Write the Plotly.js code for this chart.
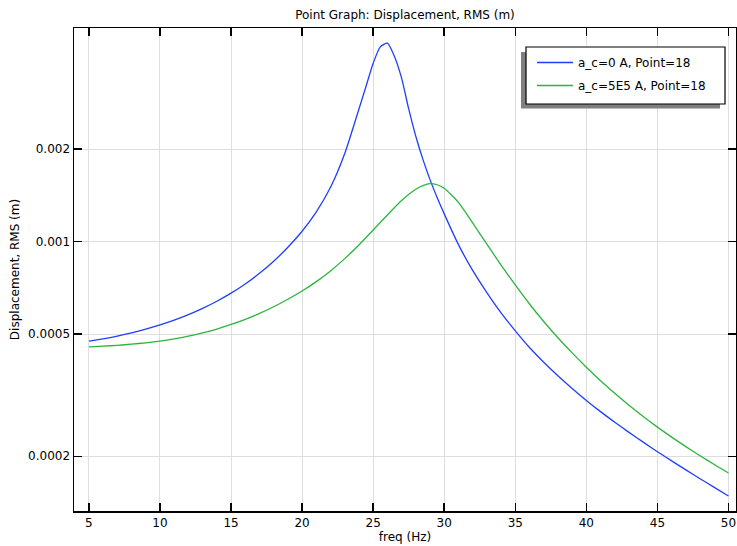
<!DOCTYPE html>
<html>
<head>
<meta charset="utf-8">
<script src="https://cdn.plot.ly/plotly-3.0.1.min.js"></script>
<style>html,body{margin:0;padding:0;background:#fff;}#chart{width:737px;height:546px;}</style>
</head>
<body>
<div id="chart"></div>
<script>
// Data
const freqBlue = [5,6,7,8,9,10,11,12,13,14,15,16,17,18,19,20,21,22,23,24,24.5,25,25.5,26,26.5,27,27.5,28,28.5,29,29.5,30,31,32,33,34,35,36,37,38,39,40,41,42,43,44,45,46,47,48,49,50];
const dispBlue = [0.000474,0.0004823,0.0004924,0.0005044,0.0005186,0.0005351,0.0005545,0.000578,0.0006059,0.0006393,0.000679,0.0007276,0.0007877,0.0008626,0.0009578,0.00108,0.001249,0.001501,0.001934,0.0027,0.0032,0.0038,0.0043,0.00442,0.004,0.0034,0.0027,0.0022,0.00185,0.00159,0.00139,0.00123,0.000977,0.0008052,0.0006822,0.000586,0.000512,0.0004521,0.0004048,0.0003658,0.0003325,0.000304,0.0002795,0.0002582,0.0002393,0.0002224,0.000207,0.0001932,0.0001806,0.0001691,0.0001584,0.0001485];
const freqGreen = [5,6,7,8,9,10,11,12,13,14,15,16,17,18,19,20,21,22,23,24,25,26,27,28,28.5,29,29.5,30,31,32,33,34,35,36,37,38,39,40,41,42,43,44,45,46,47,48,49,50];
const dispGreen = [0.000454,0.0004563,0.0004595,0.0004634,0.0004681,0.000474,0.0004819,0.0004919,0.0005042,0.0005191,0.000537,0.0005582,0.0005834,0.0006133,0.0006486,0.00069,0.0007402,0.0008023,0.0008797,0.000974,0.00109,0.00122,0.00136,0.00148,0.00152,0.001543,0.00153,0.00149,0.00134,0.00115,0.00098,0.000838,0.000722,0.000626,0.000549,0.000486,0.000434,0.00039,0.0003524,0.0003207,0.0002931,0.0002695,0.0002489,0.0002309,0.000215,0.0002008,0.000188,0.0001765];
const seriesNames = ['a_c=0 A, Point=18', 'a_c=5E5 A, Point=18'];
const yTickVals = [0.0002, 0.0005, 0.001, 0.002];
const yTickText = ['0.0002', '0.0005', '0.001', '0.002'];

const FONT = 'DejaVu Sans, sans-serif';
const traces = [
  {x: freqBlue, y: dispBlue, type: 'scatter', mode: 'lines', name: seriesNames[0],
   line: {color: '#1f3fff', width: 1.3, shape: 'spline', smoothing: 0.6}, legendgroup: 'a'},
  {x: freqGreen, y: dispGreen, type: 'scatter', mode: 'lines', name: seriesNames[1],
   line: {color: '#2cb53c', width: 1.3, shape: 'spline', smoothing: 0.6}, legendgroup: 'b'}
];
const L = 74, R = 1, T = 28, B = 35, W = 737, H = 546;
const pw = W - L - R, ph = H - T - B;
const px = v => (v - L) / pw;
const py = v => (H - B - v) / ph;
const layout = {
  width: W, height: H,
  margin: {l: L, r: R, t: T, b: B, pad: 0},
  paper_bgcolor: '#fff', plot_bgcolor: '#fff',
  font: {family: FONT, size: 12, color: '#000'},
  showlegend: true,
  title: {text: 'Point Graph: Displacement, RMS (m)', font: {family: FONT, size: 12, color: '#000'},
          x: 0.5, xref: 'paper', y: 1 - 15 / H, yref: 'container', yanchor: 'middle'},
  xaxis: {
    range: [3.95, 50.53], tick0: 5, dtick: 5, ticks: 'inside', ticklen: 8, tickwidth: 1.5,
    tickcolor: '#000', showline: true, linecolor: '#000', linewidth: 1.5, mirror: 'allticks',
    showgrid: true, gridcolor: '#dedede', gridwidth: 1, zeroline: false,
    tickfont: {family: FONT, size: 12, color: '#000'},
    title: {text: 'freq (Hz)', font: {family: FONT, size: 12, color: '#000'}, standoff: 2}
  },
  yaxis: {
    type: 'log', range: [-3.877, -2.3052], tickvals: yTickVals, ticktext: yTickText,
    ticks: 'inside', ticklen: 8, tickwidth: 1.5, tickcolor: '#000',
    showline: true, linecolor: '#000', linewidth: 1.5, mirror: 'allticks',
    showgrid: true, gridcolor: '#dedede', gridwidth: 1, zeroline: false,
    tickfont: {family: FONT, size: 12, color: '#000'},
    title: {text: 'Displacement, RMS (m)', font: {family: FONT, size: 12, color: '#000'}, standoff: 6}
  },
  legend: {
    x: px(527), y: py(48), xanchor: 'left', yanchor: 'top',
    bgcolor: 'rgba(0,0,0,0)', borderwidth: 0,
    font: {family: FONT, size: 12, color: '#000'},
    traceorder: 'grouped', tracegroupgap: 4, indentation: 5, itemwidth: 36
  },
  shapes: [
    {type: 'rect', xref: 'paper', yref: 'paper', x0: px(521), x1: px(720), y0: py(108.5), y1: py(52),
     fillcolor: '#808080', line: {width: 0}, layer: 'above'},
    {type: 'rect', xref: 'paper', yref: 'paper', x0: px(526), x1: px(725), y0: py(104), y1: py(47),
     fillcolor: '#ffffff', line: {color: '#000', width: 1.2}, layer: 'above'}
  ]
};
Plotly.newPlot('chart', traces, layout, {staticPlot: true, displayModeBar: false});
</script>
</body>
</html>
